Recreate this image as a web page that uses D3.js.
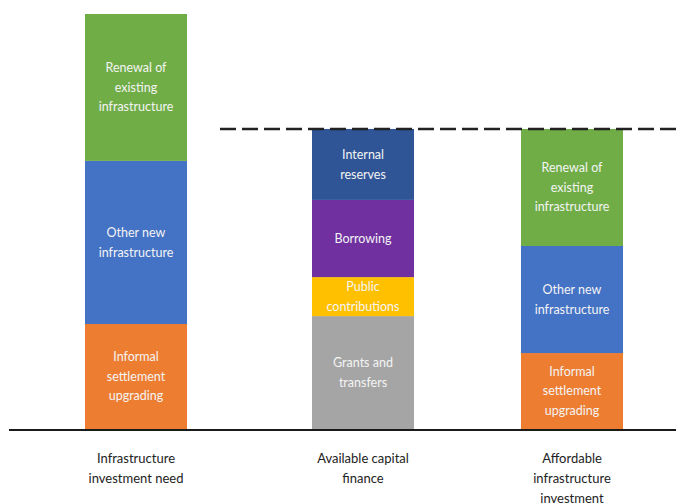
<!DOCTYPE html>
<html>
<head>
<meta charset="utf-8">
<script src="https://cdn.jsdelivr.net/npm/d3@7"></script>
<style>
  html, body { margin: 0; padding: 0; background: #fff; }
  svg { display: block; }
</style>
</head>
<body>
<svg class="chart-svg"></svg>
<script>
const categories = ["need", "finance", "affordable"];

const categoryLabels = [
  ["Infrastructure", "investment need"],
  ["Available capital", "finance"],
  ["Affordable", "infrastructure", "investment"],
];

// stacked from the bottom up
const needLabels = [
  ["Informal", "settlement", "upgrading"],
  ["Other new", "infrastructure"],
  ["Renewal of", "existing", "infrastructure"],
];
const needValues = [25.3, 39.3, 35.4];
const needColors = ["#ED7D31", "#4472C4", "#70AD47"];

const financeLabels = [
  ["Grants and", "transfers"],
  ["Public", "contributions"],
  ["Borrowing"],
  ["Internal", "reserves"],
];
const financeValues = [27.2, 9.4, 18.6, 17.1];
const financeColors = ["#A5A5A5", "#FFC000", "#7030A0", "#2F5597"];

const affordableLabels = needLabels;
const affordableValues = [18.3, 25.8, 28.2];
const affordableColors = needColors;

const W = 676, H = 503;
const svg = d3.select('.chart-svg').attr('width', W).attr('height', H);

const x = d3.scaleOrdinal().domain(categories).range([136, 363, 572]);
const barWidth = 102;
const y = d3.scaleLinear().domain([0, 100]).range([429, 14]);

function stackBar(cat, labels, values, colors) {
  let base = 0;
  return values.map((v, i) => {
    const seg = { cat, y0: base, y1: base + v, lines: labels[i], color: colors[i] };
    base += v;
    return seg;
  });
}

const segments = [
  ...stackBar("need", needLabels, needValues, needColors),
  ...stackBar("finance", financeLabels, financeValues, financeColors),
  ...stackBar("affordable", affordableLabels, affordableValues, affordableColors),
];

const g = svg.append('g');

g.selectAll('rect.seg').data(segments).join('rect')
  .attr('class', 'seg')
  .attr('x', d => x(d.cat) - barWidth / 2)
  .attr('width', barWidth)
  .attr('y', d => y(d.y1))
  .attr('height', d => y(d.y0) - y(d.y1))
  .attr('fill', d => d.color);

const lineH = 19.5;
const segText = g.selectAll('text.seg-label').data(segments).join('text')
  .attr('class', 'seg-label')
  .attr('text-anchor', 'middle')
  .attr('font-family', 'Lato, "Liberation Sans", sans-serif')
  .attr('font-size', '12.5px')
  .attr('fill', '#f4f4f4')
  .attr('transform', d => `translate(${x(d.cat)},${(y(d.y0) + y(d.y1)) / 2})`);

segText.selectAll('tspan').data(d => d.lines.map((t, i) => ({ t, i, n: d.lines.length }))).join('tspan')
  .attr('x', 0)
  .attr('y', d => (d.i - (d.n - 1) / 2) * lineH)
  .attr('dy', '0.35em')
  .text(d => d.t);

// dashed line at the level of available finance
const financeTotal = d3.sum(financeValues);
g.append('line')
  .attr('x1', 220).attr('x2', W)
  .attr('y1', y(financeTotal)).attr('y2', y(financeTotal))
  .attr('stroke', '#222')
  .attr('stroke-width', 2.5)
  .attr('stroke-dasharray', '16,6');

// baseline
g.append('line')
  .attr('x1', 9).attr('x2', W)
  .attr('y1', y(0) + 1).attr('y2', y(0) + 1)
  .attr('stroke', '#1a1a1a')
  .attr('stroke-width', 2);

// category labels
const catText = g.selectAll('text.cat').data(categories).join('text')
  .attr('class', 'cat')
  .attr('text-anchor', 'middle')
  .attr('font-family', 'Lato, "Liberation Sans", sans-serif')
  .attr('font-size', '13px')
  .attr('fill', '#222')
  .attr('transform', d => `translate(${x(d)},458)`);

catText.selectAll('tspan').data((d, i) => categoryLabels[i].map((t, j) => ({ t, j }))).join('tspan')
  .attr('x', 0)
  .attr('y', d => d.j * 20)
  .attr('dy', '0.35em')
  .text(d => d.t);
</script>
</body>
</html>
